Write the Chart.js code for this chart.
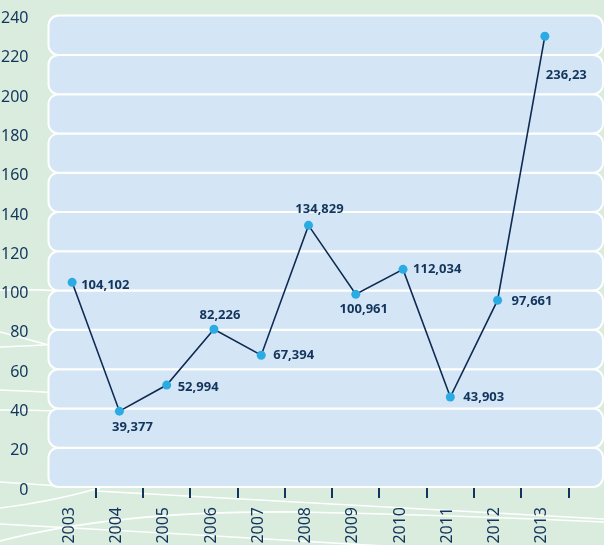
<!DOCTYPE html>
<html>
<head>
<meta charset="utf-8">
<script src="https://cdn.jsdelivr.net/npm/chart.js@4.4.0/dist/chart.umd.min.js"></script>
<style>
  html, body { margin: 0; padding: 0; background: #d9ecdd; overflow: hidden; }
  #wrap { width: 604px; height: 545px; overflow: hidden; }
  #chart { display: block; margin-top: -6px; }
</style>
</head>
<body>
<div id="wrap"><canvas id="chart" width="604" height="551"></canvas></div>
<script>
const years = ['2003', '2004', '2005', '2006', '2007', '2008', '2009', '2010', '2011', '2012', '2013'];
const values = [104.2, 38.6, 51.9, 80.3, 67.1, 133.2, 98.1, 110.8, 45.8, 95.1, 229.5];
const valueLabels = ['104,102', '39,377', '52,994', '82,226', '67,394', '134,829', '100,961', '112,034', '43,903', '97,661', '236,23'];
const yTicks = [0, 20, 40, 60, 80, 100, 120, 140, 160, 180, 200, 220, 240];

const navy = '#13345c';
const FONT = '"Noto Sans", sans-serif';

// white swooshes on the green background (canvas is shifted up 6px)
const backdrop = {
  id: 'backdrop',
  beforeDraw(chart) {
    const c = chart.ctx;
    c.save();
    c.fillStyle = '#d9ecdd';
    c.fillRect(0, 0, chart.width, chart.height);
    c.translate(0, 6);
    c.strokeStyle = '#ffffff';
    c.lineWidth = 1.6;
    const curves = [
      [0, 290, 30, 289, 60, 291],
      [0, 332, 30, 340, 60, 348],
      [0, 347, 30, 346, 60, 344],
      [0, 390, 30, 391, 60, 393],
      [0, 410, 30, 410, 60, 411],
      [0, 482, 30, 484, 60, 486],
      [0, 508, 50, 502, 100, 488],
      [0, 541, 120, 510, 300, 512],
      [300, 512, 450, 515, 604, 522],
      [0, 524, 300, 540, 604, 560],
      [96, 491, 350, 505, 604, 519]
    ];
    curves.forEach(p => {
      c.beginPath();
      c.moveTo(p[0], p[1]);
      c.quadraticCurveTo(p[2], p[3], p[4], p[5]);
      c.stroke();
    });
    c.restore();
  }
};

// rounded light blue bands between the y ticks
const bands = {
  id: 'bands',
  beforeDatasetsDraw(chart) {
    const c = chart.ctx;
    const y = chart.scales.y;
    const left = chart.chartArea.left;
    const right = 603;
    c.save();
    c.fillStyle = '#d4e6f5';
    c.strokeStyle = '#ffffff';
    c.lineWidth = 2;
    for (let i = 0; i < yTicks.length - 1; i++) {
      const top = y.getPixelForValue(yTicks[i + 1]);
      const bottom = y.getPixelForValue(yTicks[i]);
      c.beginPath();
      c.roundRect(left, top, right - left, bottom - top, 10);
      c.fill();
      c.stroke();
    }
    c.restore();
  }
};

// value labels next to the points
const placement = [
  { dx: 9, dy: 3, align: 'left' },
  { dx: 13, dy: 16, align: 'center' },
  { dx: 11, dy: 2, align: 'left' },
  { dx: 6, dy: -14, align: 'center' },
  { dx: 12, dy: 0, align: 'left' },
  { dx: 11, dy: -16, align: 'center' },
  { dx: 8, dy: 15, align: 'center' },
  { dx: 10, dy: 0, align: 'left' },
  { dx: 13, dy: 0, align: 'left' },
  { dx: 14, dy: 1, align: 'left' },
  { dx: 1, dy: 39, align: 'left' }
];
const pointLabels = {
  id: 'pointLabels',
  afterDatasetsDraw(chart) {
    const c = chart.ctx;
    const meta = chart.getDatasetMeta(0);
    c.save();
    c.font = 'bold 13px ' + FONT;
    c.fillStyle = navy;
    c.textBaseline = 'middle';
    meta.data.forEach((pt, i) => {
      const p = placement[i];
      c.textAlign = p.align;
      c.fillText(valueLabels[i], pt.x + p.dx, pt.y + p.dy);
    });
    c.restore();
  }
};

new Chart(document.getElementById('chart'), {
  type: 'line',
  data: {
    labels: years,
    datasets: [{
      data: values,
      borderColor: '#0f2b52',
      borderWidth: 1.6,
      pointRadius: 4.5,
      pointHoverRadius: 4.5,
      pointBackgroundColor: '#2aabe3',
      pointBorderWidth: 0,
      tension: 0
    }]
  },
  options: {
    responsive: false,
    animation: false,
    events: [],
    layout: { padding: { top: 9, right: 35.5, left: 0, bottom: 0 } },
    plugins: {
      legend: { display: false },
      tooltip: { enabled: false }
    },
    scales: {
      x: {
        offset: true,
        afterFit(scale) { scale.height = 58; },
        border: { display: false },
        grid: {
          offset: true,
          drawOnChartArea: false,
          drawTicks: true,
          tickLength: 11,
          lineWidth: 2,
          color: (ctx) => ctx.index === 0 ? 'rgba(0,0,0,0)' : navy
        },
        ticks: {
          minRotation: 90,
          maxRotation: 90,
          padding: 9,
          labelOffset: -3,
          color: navy,
          font: { family: FONT, size: 16 }
        }
      },
      y: {
        min: 0,
        max: 240,
        afterFit(scale) { scale.width = 48.5; },
        border: { display: false },
        grid: { display: false },
        ticks: {
          stepSize: 20,
          padding: 12,
          labelOffset: 3,
          color: navy,
          font: { family: FONT, size: 16 }
        }
      }
    }
  },
  plugins: [backdrop, bands, pointLabels]
});
</script>
</body>
</html>
